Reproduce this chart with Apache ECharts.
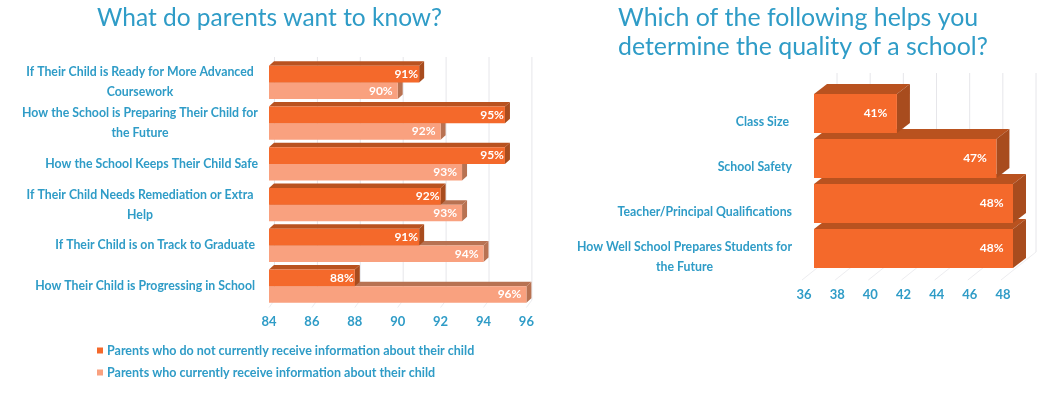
<!DOCTYPE html>
<html><head><meta charset="utf-8">
<style>html,body{margin:0;padding:0;background:#fff}#c{width:1045px;height:395px}</style>
<script src="https://cdn.jsdelivr.net/npm/echarts@6/dist/echarts.min.js"></script>
</head><body><div id="c"></div>
<script>
const leftCategories = [
  'How Their Child is Progressing in School ',
  'If Their Child is on Track to Graduate ',
  'If Their Child Needs Remediation or Extra\nHelp',
  'How the School Keeps Their Child Safe',
  'How the School is Preparing Their Child for\nthe Future',
  'If Their Child is Ready for More Advanced\nCoursework'
];
const notReceiving = [88, 91, 92, 95, 95, 91];
const receiving = [96, 94, 93, 93, 92, 90];
const leftTicks = [84, 86, 88, 90, 92, 94, 96];
const rightCategories = [
  'How Well School Prepares Students for\nthe Future',
  'Teacher/Principal Qualifications',
  'School Safety',
  'Class Size '
];
const quality = [48, 48, 47, 41];
const rightTicks = [36, 38, 40, 42, 44, 46, 48];
const seriesNames = ['Parents who do not currently receive information about their child', 'Parents who currently receive information about their child'];
const titles = ['What do parents want to know?', 'Which of the following helps you\ndetermine the quality of a school?'];

const BLUE = '#2F9CC7', FONT = 'Lato';
const c1 = {front:'#F4692B', top:'#B9521F', side:'#A84C1E'};
const c2 = {front:'#F9A17F', top:'#B87252', side:'#B87252'};

function bar3d(colors, hRatio, shift, dx, dy, labelGap, fs) {
  return function (params, api) {
    const v = api.value(0), end = api.coord([v, api.value(1)]);
    const base = api.coord([api.value(2), api.value(1)]);
    const band = api.size([0, 1])[1], h = band * hRatio;
    const x0 = base[0], x1 = end[0], y0 = end[1] + band * shift - h / 2, y1 = y0 + h;
    return {type: 'group', children: [
      {type:'polygon', shape:{points:[[x0,y0],[x0+dx,y0-dy],[x1+dx,y0-dy],[x1,y0]]}, style:{fill:colors.top}},
      {type:'polygon', shape:{points:[[x1,y0],[x1+dx,y0-dy],[x1+dx,y1-dy],[x1,y1]]}, style:{fill:colors.side}},
      {type:'rect', shape:{x:x0,y:y0,width:x1-x0,height:h}, style:{fill:colors.front}},
      {type:'text', style:{text:v+'%', x:x1-labelGap, y:(y0+y1)/2, align:'right', verticalAlign:'middle', fill:'#fff', font:'bold '+fs+'px '+FONT}}
    ]};
  };
}
function frame(wallDx, wallTop, wallBottom, floorFrontDx, floorFrontDy) {
  return function (params, api) {
    const p = api.coord([api.value(0), 0]), s = params.coordSys;
    const b = s.y + s.height, x = p[0];
    const wall = '#E6E6EA', floor = '#EDEDF0';
    return {type:'group', children:[
      {type:'line', shape:{x1:x+wallDx,y1:s.y-wallTop,x2:x+wallDx,y2:b-wallBottom}, style:{stroke:wall,lineWidth:1}},
      {type:'line', shape:{x1:x+wallDx,y1:b-wallBottom,x2:x+floorFrontDx,y2:b+floorFrontDy}, style:{stroke:floor,lineWidth:1}}
    ]};
  };
}
const catFormatter = function (t) {
  const parts = t.split('\n');
  return parts.length > 1 ? parts.map(l => '{c|' + l + '}').join('\n') : t;
};
const yAxisBase = (data, width, margin, pad) => ({type:'category', data, axisLine:{show:false}, axisTick:{show:false}, splitLine:{show:false},
  axisLabel:{color:BLUE, fontFamily:FONT, fontWeight:'bold', fontSize:12.3, lineHeight:20, margin, padding:pad, interval:0, formatter:catFormatter,
    rich:{c:{width, align:'center', color:BLUE, fontFamily:FONT, fontWeight:'bold', fontSize:12.3, lineHeight:20}}}});
const xAxisBase = (min, max, margin, pad) => ({type:'value', min, max, interval:2, axisLine:{show:false}, axisTick:{show:false}, splitLine:{show:false},
  axisLabel:{color:BLUE, fontFamily:FONT, fontWeight:'bold', fontSize:13, margin, padding:pad}});

const chart = echarts.init(document.getElementById('c'), null, {renderer:'canvas'});
chart.setOption({
  backgroundColor:'#fff', animation:false,
  title:[
    {text:titles[0], left:92, top:1, textStyle:{color:BLUE, fontFamily:FONT, fontWeight:'normal', fontSize:24.5}},
    {text:titles[1], left:613, top:-2, textStyle:{color:BLUE, fontFamily:FONT, fontWeight:'normal', fontSize:24.9, lineHeight:29}}
  ],
  legend:{left:92, top:339, orient:'vertical', itemWidth:6, itemHeight:6, itemGap:9, icon:'rect', data:seriesNames,
    selectedMode:false, textStyle:{color:BLUE, fontFamily:FONT, fontWeight:'bold', fontSize:12.5, padding:[0,0,0,-1]}},
  grid:[{left:269, top:62, width:257.4, height:244.5},{left:814, top:91, width:199, height:180}],
  xAxis:[xAxisBase(84,96,9,[0,0,0,0]), Object.assign(xAxisBase(36,48,17,[0,20,0,0]),{gridIndex:1})],
  yAxis:[yAxisBase(leftCategories,236,11,[0,0,0,0]), Object.assign(yAxisBase(rightCategories,215,22,[18,0,0,0]),{gridIndex:1})],
  series:[
    {type:'custom', name:'leftFrame', silent:true, z:1, xAxisIndex:0, yAxisIndex:0, clip:false, data:leftTicks.map(t=>[t]), renderItem:frame(5.5,5,6.5,0,1)},
    {type:'custom', name:'rightFrame', silent:true, z:1, xAxisIndex:1, yAxisIndex:1, clip:false, data:rightTicks.map(t=>[t]), renderItem:frame(23,18,19,-12,9)},
    {type:'custom', name:seriesNames[0], z:3, xAxisIndex:0, yAxisIndex:0, clip:false, itemStyle:{color:c1.front},
      data:notReceiving.map((v,i)=>[v,i,84]), renderItem:bar3d(c1,0.41,-0.205,5,4.5,1,12)},
    {type:'custom', name:seriesNames[1], z:2, xAxisIndex:0, yAxisIndex:0, clip:false, itemStyle:{color:c2.front},
      data:receiving.map((v,i)=>[v,i,84]), renderItem:bar3d(c2,0.41,0.205,5,4.5,5,12)},
    {type:'custom', name:'quality', z:3, xAxisIndex:1, yAxisIndex:1, clip:false, itemStyle:{color:c1.front},
      data:quality.map((v,i)=>[v,i,36]), renderItem:bar3d(c1,0.867,0,13,10,9.5,12)}
  ]
});
</script></body></html>
